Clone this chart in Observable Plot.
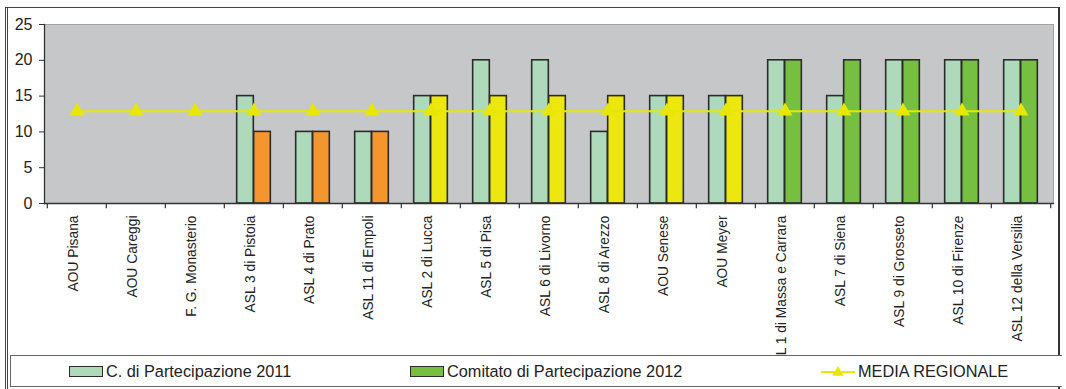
<!DOCTYPE html>
<html>
<head>
<meta charset="utf-8">
<script src="https://cdn.jsdelivr.net/npm/d3@7"></script>
<script src="https://cdn.jsdelivr.net/npm/@observablehq/plot@0.6"></script>
<style>
  html, body { margin: 0; padding: 0; background: #fff; }
  body { width: 1066px; height: 389px; position: relative; overflow: hidden; font-family: "Liberation Sans", Arial, sans-serif; }
  #chart { position: absolute; left: 0; top: 0; }
  .frame-outer { position: absolute; left: 5px; top: 7px; width: 1055px; height: 390px; border-left: 3px double #444; border-top: 1px solid #444; border-right: 2px solid #333; box-sizing: border-box; pointer-events: none; }
  .legend { position: absolute; left: 10px; top: 355px; width: 1052px; height: 32px; border: 1px solid #666; border-right: none; box-sizing: border-box; font-size: 16.3px; color: #222; background: #fff; }
  .item { position: absolute; top: 0; height: 31px; display: flex; align-items: center; white-space: nowrap; }
  .sw { width: 32px; height: 9px; border: 1.5px solid #2b2b2b; margin-right: 3px; }
  .ln { position: relative; width: 34px; margin-right: 3px; }
</style>
</head>
<body>
<div id="chart"></div>
<div class="frame-outer"></div>
<div class="legend">
  <div class="item" style="left:58px"><div class="sw" id="sw2011"></div><span>C. di Partecipazione 2011</span></div>
  <div class="item" style="left:399px"><div class="sw" id="sw2012"></div><span>Comitato di Partecipazione 2012</span></div>
  <div class="item" style="left:810px"><svg class="ln" id="lnMedia" width="34" height="12" style="height:12px"></svg><span>MEDIA REGIONALE</span></div>
</div>
<script>
// Aziende sanitarie e punteggi del Comitato di Partecipazione
const aziende = [
  "AOU Pisana", "AOU Careggi", "F. G. Monasterio", "ASL 3 di Pistoia", "ASL 4 di Prato",
  "ASL 11 di Empoli", "ASL 2 di Lucca", "ASL 5 di Pisa", "ASL 6 di Livorno", "ASL 8 di Arezzo",
  "AOU Senese", "AOU Meyer", "ASL 1 di Massa e Carrara", "ASL 7 di Siena", "ASL 9 di Grosseto",
  "ASL 10 di Firenze", "ASL 12 della Versilia"
];
const partecipazione2011 = [0, 0, 0, 15, 10, 10, 15, 20, 20, 10, 15, 15, 20, 15, 20, 20, 20];
const partecipazione2012 = [0, 0, 0, 10, 10, 10, 15, 15, 15, 15, 15, 15, 20, 20, 20, 20, 20];
const mediaRegionale = 12.9;
const yTicks = [0, 5, 10, 15, 20, 25];

// Colori
const grigioArea = "#c6c7c9";
const verdeChiaro = "#aed9bb";
const fasce2012 = { domain: [10, 15, 20], range: ["#f5952d", "#ebe70f", "#77bf41"] };
const gialloMedia = "#e9e600";
const bordo = "#2b2b2b";

const rows = aziende.map((nome, i) => ({
  nome,
  v2011: partecipazione2011[i],
  v2012: partecipazione2012[i],
  media: mediaRegionale
}));

const areaLeft = 44, areaRight = 1053, areaTop = 24, areaBase = 203, svgH = 356;
const band = (areaRight - areaLeft) / aziende.length;
const barW = 17;
const gap = (band - 2 * barW) / 2;

const chart = Plot.plot({
  width: 1066,
  height: svgH,
  marginLeft: areaLeft,
  marginRight: 1066 - areaRight,
  marginTop: areaTop,
  marginBottom: svgH - areaBase,
  style: { fontFamily: "Liberation Sans, Arial, sans-serif", background: "transparent", overflow: "hidden", color: "#222" },
  x: { domain: aziende, padding: 0, axis: null },
  y: { domain: [0, 25], axis: null },
  color: { type: "ordinal", domain: fasce2012.domain, range: fasce2012.range },
  marks: [
    Plot.frame({ fill: grigioArea, stroke: "#a2a2a2", strokeWidth: 1 }),
    Plot.barY(rows.filter(d => d.v2011 > 0), {
      x: "nome", y: "v2011", fill: verdeChiaro, stroke: bordo, strokeWidth: 1.6,
      insetLeft: gap, insetRight: gap + barW
    }),
    Plot.barY(rows.filter(d => d.v2012 > 0), {
      x: "nome", y: "v2012", fill: "v2012", stroke: bordo, strokeWidth: 1.6,
      insetLeft: gap + barW, insetRight: gap
    }),
    Plot.lineY(rows, { x: "nome", y: "media", stroke: gialloMedia, strokeWidth: 2 }),
    Plot.dot(rows, { x: "nome", y: "media", symbol: "triangle", r: 5.6, fill: gialloMedia, stroke: null }),
    // assi
    Plot.frame({ anchor: "left", stroke: "#333", strokeWidth: 1.3 }),
    Plot.frame({ anchor: "bottom", stroke: "#333", strokeWidth: 1.3 }),
    Plot.axisY({ ticks: yTicks, tickSize: 5, tickPadding: 7, fontSize: 16, stroke: "#333", tickFormat: d => String(d) }),
    // tacche ai confini delle categorie
    Plot.ruleX(aziende, { x: d => d, dx: -band / 2, y1: 0, y2: -0.72, stroke: "#333", strokeWidth: 1.2 }),
    Plot.ruleX([aziende[aziende.length - 1]], { x: d => d, dx: band / 2, y1: 0, y2: -0.72, stroke: "#333", strokeWidth: 1.2 }),
    Plot.text(aziende, {
      x: d => d, y: 0, dx: -3, dy: 12, rotate: -90, textAnchor: "end", lineAnchor: "middle",
      fontSize: 13.8, fill: "#222"
    })
  ]
});
document.getElementById("chart").appendChild(chart);

// Legenda
document.getElementById("sw2011").style.background = verdeChiaro;
document.getElementById("sw2012").style.background = fasce2012.range[2];
const ln = d3.select("#lnMedia");
ln.append("line").attr("x1", 0).attr("x2", 34).attr("y1", 6).attr("y2", 6).attr("stroke", gialloMedia).attr("stroke-width", 2);
ln.append("path").attr("d", d3.symbol(d3.symbolTriangle, 55)()).attr("transform", "translate(17,6.5)").attr("fill", gialloMedia);
</script>
</body>
</html>
